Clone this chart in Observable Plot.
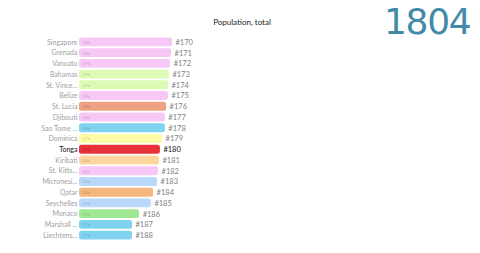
<!DOCTYPE html>
<html><head><meta charset="utf-8">
<script src="https://cdn.jsdelivr.net/npm/d3@7"></script>
<script src="https://cdn.jsdelivr.net/npm/@observablehq/plot@0.6"></script>
<style>
html,body{margin:0;padding:0;background:#fff;}
#wrap{position:relative;width:480px;height:253px;overflow:hidden;font-family:Lato,"Open Sans",sans-serif;}
#title{position:absolute;left:0;width:484px;top:17px;text-align:center;font-size:8px;line-height:10px;color:#222;}
#year{position:absolute;left:384px;top:1px;font-family:"DejaVu Sans",sans-serif;font-size:36px;line-height:normal;letter-spacing:-1.3px;color:#4389a8;}
</style></head>
<body><div id="wrap"><div id="title">Population, total</div><div id="year">1804</div></div>
<script>
const titleText = "Population, total";
const yearText = "1804";
const countries = ["Singapore","Grenada","Vanuatu","Bahamas","St. Vince...","Belize","St. Lucia","Djibouti","Sao Tome ...","Dominica","Tonga","Kiribati","St. Kitts...","Micronesi...","Qatar","Seychelles","Monaco","Marshall ...","Liechtens..."];
const populations = [30000,29700,29400,29000,28700,28700,28100,27700,27700,26800,26100,25800,25500,25200,23900,23200,19400,17100,17100];
const ranks = [170,171,172,173,174,175,176,177,178,179,180,181,182,183,184,185,186,187,188];
const colors = ["#f7c8f6","#f7c8f6","#f7c8f6","#ddfbb4","#ddfbb4","#f7c8f6","#eea283","#f7c8f6","#7fd3ef","#fdfba6","#e8323a","#fdd59d","#f7c8f6","#bad8fa","#f5b77c","#bad8fa","#a0e894","#7fd3ef","#7fd3ef"];
const highlight = "Tonga";
document.getElementById("title").textContent = titleText;
document.getElementById("year").textContent = yearText;

const data = countries.map((c,i)=>({country:c, value:populations[i], rank:"#"+ranks[i], color:colors[i]}));

const chart = Plot.plot({
  width:480, height:253,
  marginLeft:79, marginRight:308, marginTop:35.6, marginBottom:11.6,
  style:{fontFamily:"Lato, 'Open Sans', sans-serif", background:"transparent"},
  x:{domain:[0,30000], axis:null},
  y:{domain:countries, axis:null, padding:0.17, round:false},
  marks:[
    Plot.barX(data,{x:"value", y:"country", fill:"color", rx:2.5}),
    Plot.text(data,{x:0, y:"country", text:"country", textAnchor:"end", dx:-2, fontSize:7,
      fill:d=>d.country===highlight?"#111":"#a0a0a0", fontWeight:d=>d.country===highlight?"600":"normal"}),
    Plot.text(data,{x:0, y:"country", text:d=>Math.round(d.value/1000)+"k", textAnchor:"start", dx:3, fontSize:4.5,
      fill:"#000", fillOpacity:0.25}),
    Plot.text(data,{x:"value", y:"country", text:"rank", textAnchor:"start", dx:3, fontSize:7.5,
      fill:d=>d.country===highlight?"#111":"#808080", fontWeight:d=>d.country===highlight?"bold":"normal"})
  ]
});
chart.style.position="absolute"; chart.style.left="0"; chart.style.top="0";
document.getElementById("wrap").appendChild(chart);
</script>
</body></html>
